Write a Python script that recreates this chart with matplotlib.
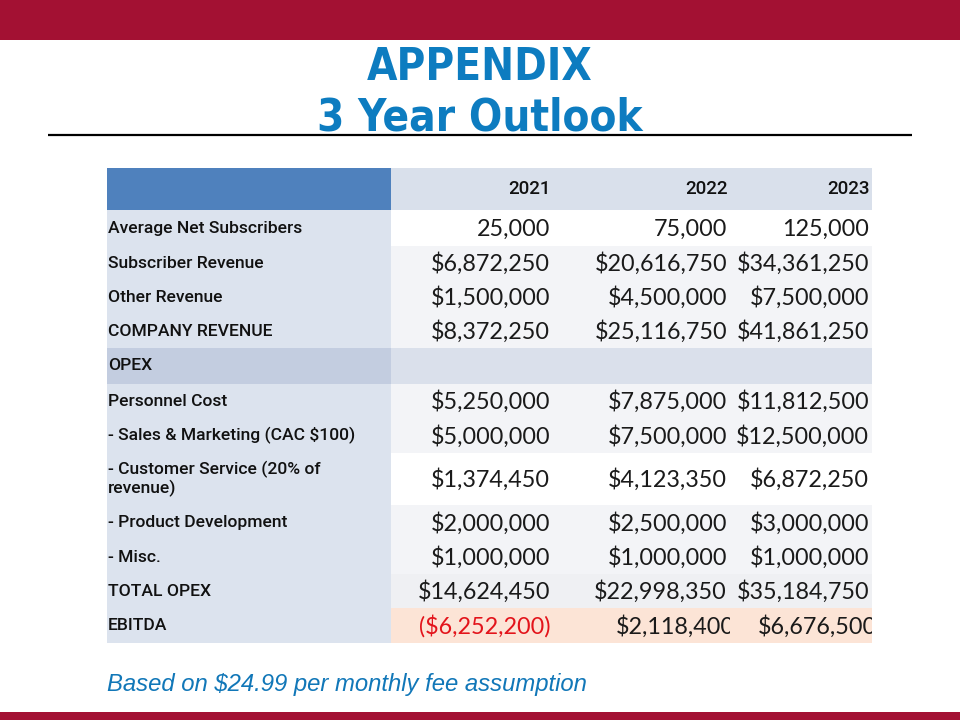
import matplotlib
matplotlib.use("Agg")
import matplotlib.pyplot as plt
from matplotlib.patches import Rectangle
from matplotlib.transforms import Bbox, TransformedBbox

# Slide content
title_lines = ["APPENDIX", "3 Year Outlook"]
years = ["2021", "2022", "2023"]
row_labels = [
    "Average Net Subscribers",
    "Subscriber Revenue",
    "Other Revenue",
    "COMPANY REVENUE",
    "OPEX",
    "Personnel Cost",
    "- Sales & Marketing (CAC $100)",
    "- Customer Service (20% of\nrevenue)",
    "- Product Development",
    "- Misc.",
    "TOTAL OPEX",
    "EBITDA",
]
values_2021 = ["25,000", "$6,872,250", "$1,500,000", "$8,372,250", "",
               "$5,250,000", "$5,000,000", "$1,374,450", "$2,000,000",
               "$1,000,000", "$14,624,450", "($6,252,200)"]
values_2022 = ["75,000", "$20,616,750", "$4,500,000", "$25,116,750", "",
               "$7,875,000", "$7,500,000", "$4,123,350", "$2,500,000",
               "$1,000,000", "$22,998,350", "$2,118,400"]
values_2023 = ["125,000", "$34,361,250", "$7,500,000", "$41,861,250", "",
               "$11,812,500", "$12,500,000", "$6,872,250", "$3,000,000",
               "$1,000,000", "$35,184,750", "$6,676,500"]
footnote = "Based on $24.99 per monthly fee assumption"

# Layout (pixels)
row_edges = [210, 246, 280, 314, 348, 384, 418, 453, 505, 540, 574, 608, 643]
col_edges = [107, 391, 553, 730, 872]
header_top = 168

# Colours
RED_BAND = "#A31133"
TITLE_BLUE = "#0D7CC0"
row_fill = ["#FFFFFF", "#F3F4F7", "#F3F4F7", "#F3F4F7", "#DAE0EB",
            "#F3F4F7", "#F3F4F7", "#FFFFFF", "#F3F4F7", "#F3F4F7",
            "#EFF0F3", "#FCE4D6"]
label_fill = ["#DCE3EE"] * 12
label_fill[4] = "#C3CDE0"

fig = plt.figure(figsize=(9.6, 7.2), dpi=100)
ax = fig.add_axes([0, 0, 1, 1])
ax.set_xlim(0, 960)
ax.set_ylim(720, 0)
ax.axis("off")

# bands and rule
ax.add_patch(Rectangle((0, 0), 960, 40, color=RED_BAND, lw=0))
ax.add_patch(Rectangle((0, 712), 960, 8, color=RED_BAND, lw=0))
ax.plot([48, 912], [135, 135], color="black", lw=1.6, solid_capstyle="butt")

for i, line in enumerate(title_lines):
    ax.text(480, 67 + 51 * i, line, ha="center", va="center", color=TITLE_BLUE,
            fontsize=31.5, fontweight="bold", family="DejaVu Sans",
            fontstretch="condensed")

# header row
ax.add_patch(Rectangle((col_edges[0], header_top), col_edges[1] - col_edges[0],
                       row_edges[0] - header_top, color="#4F81BD", lw=0))
ax.add_patch(Rectangle((col_edges[1], header_top), col_edges[-1] - col_edges[1],
                       row_edges[0] - header_top, color="#D9E0EB", lw=0))
for j, yr in enumerate(years):
    ax.text(col_edges[j + 2] - 2, 189, yr, ha="right", va="center",
            fontsize=13.5, fontweight="medium", family="Roboto", color="#111111")

value_cols = [values_2021, values_2022, values_2023]
for i, lab in enumerate(row_labels):
    y0, y1 = row_edges[i], row_edges[i + 1]
    ym = (y0 + y1) / 2
    ax.add_patch(Rectangle((col_edges[0], y0), col_edges[1] - col_edges[0],
                           y1 - y0, color=label_fill[i], lw=0))
    ax.add_patch(Rectangle((col_edges[1], y0), col_edges[-1] - col_edges[1],
                           y1 - y0, color=row_fill[i], lw=0))
    ax.text(col_edges[0] + 1, ym, lab, ha="left", va="center",
            fontsize=12.6, fontweight="medium", family="Roboto",
            color="#111111", linespacing=1.2)
    for j, col in enumerate(value_cols):
        txt = col[i]
        if not txt:
            continue
        color = "#E3141B" if txt.startswith("(") else "#1A1A1A"
        xr = col_edges[j + 2] - 3
        if lab == "EBITDA" and j > 0:
            xr = col_edges[j + 2] + 5
        t = ax.text(xr, ym + 1, txt, ha="right", va="center", fontsize=16.8,
                    family="Lato", color=color)
        box = Bbox([[col_edges[j + 1], y0], [col_edges[j + 2], y1]])
        t.set_clip_box(TransformedBbox(box, ax.transData))
        t.set_clip_on(True)

ax.text(107, 685, footnote, ha="left", va="center", color="#1177B8",
        fontsize=17.2, style="italic", family="Liberation Sans")

fig.savefig("out.png", dpi=100)
